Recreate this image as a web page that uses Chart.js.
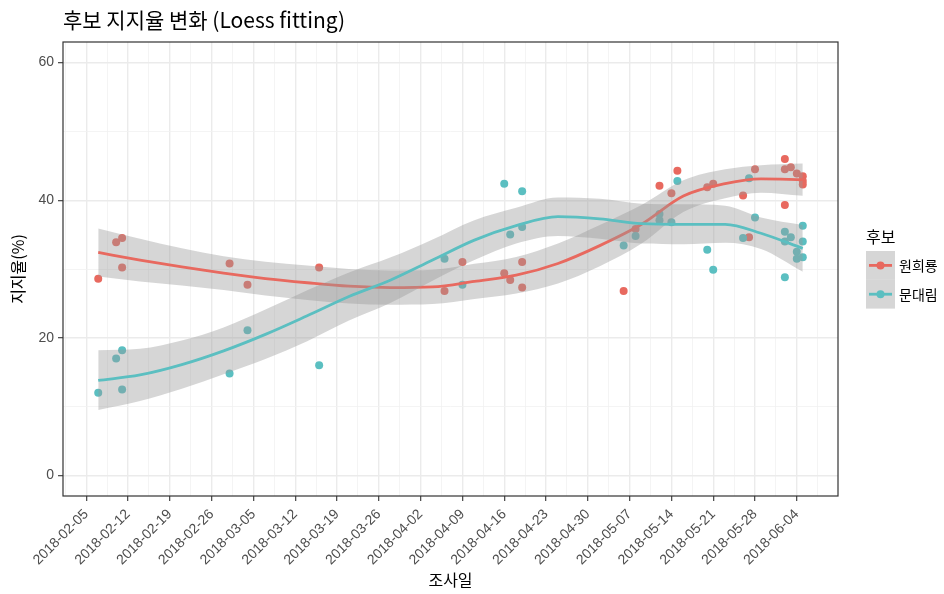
<!DOCTYPE html>
<html>
<head>
<meta charset="utf-8">
<title>후보 지지율 변화</title>
<script src="https://cdn.jsdelivr.net/npm/chart.js@4/dist/chart.umd.min.js"></script>
<style>
  html, body { margin: 0; padding: 0; background: #ffffff; }
  #wrap { width: 944px; height: 594px; position: relative; }
</style>
</head>
<body>
<div id="wrap"><canvas id="chart" width="944" height="594"></canvas></div>
<script>
// ---- data ---------------------------------------------------------------
const chartTitle = '후보 지지율 변화 (Loess fitting)';
const legendTitle = '후보';
const seriesNames = ['원희룡', '문대림'];
const xAxisTitle = '조사일';
const yAxisTitle = '지지율(%)';

const tickDates = ['2018-02-05', '2018-02-12', '2018-02-19', '2018-02-26', '2018-03-05',
  '2018-03-12', '2018-03-19', '2018-03-26', '2018-04-02', '2018-04-09', '2018-04-16',
  '2018-04-23', '2018-04-30', '2018-05-07', '2018-05-14', '2018-05-21', '2018-05-28',
  '2018-06-04'];
const yTickLabels = [0, 20, 40, 60];

// poll results, 원희룡
const wonDates = ['2018-02-07', '2018-02-10', '2018-02-11', '2018-02-11', '2018-03-01',
  '2018-03-04', '2018-03-16', '2018-04-06', '2018-04-09', '2018-04-16', '2018-04-17',
  '2018-04-19', '2018-04-19', '2018-05-06', '2018-05-08', '2018-05-12', '2018-05-14',
  '2018-05-15', '2018-05-20', '2018-05-21', '2018-05-26', '2018-05-27', '2018-05-28',
  '2018-06-02', '2018-06-02', '2018-06-02', '2018-06-03', '2018-06-04', '2018-06-05',
  '2018-06-05', '2018-06-05'];
const wonValues = [28.6, 33.9, 34.5, 30.2, 30.8,
  27.7, 30.2, 26.8, 31.0, 29.4, 28.4,
  31.0, 27.3, 26.8, 35.8, 42.1, 41.0,
  44.3, 41.9, 42.4, 40.7, 34.6, 44.5,
  46.0, 44.5, 39.3, 44.8, 43.9, 43.5,
  42.8, 42.3];

// poll results, 문대림
const moonDates = ['2018-02-07', '2018-02-10', '2018-02-11', '2018-02-11', '2018-03-01',
  '2018-03-04', '2018-03-16', '2018-04-06', '2018-04-09', '2018-04-16', '2018-04-17',
  '2018-04-19', '2018-04-19', '2018-05-06', '2018-05-08', '2018-05-12', '2018-05-12',
  '2018-05-14', '2018-05-15', '2018-05-20', '2018-05-21', '2018-05-26', '2018-05-27',
  '2018-05-28', '2018-06-02', '2018-06-02', '2018-06-02', '2018-06-03', '2018-06-04',
  '2018-06-04', '2018-06-05', '2018-06-05', '2018-06-05'];
const moonValues = [12.0, 17.0, 18.2, 12.5, 14.8,
  21.1, 16.0, 31.5, 27.7, 42.4, 35.0,
  41.3, 36.1, 33.4, 34.8, 38.0, 37.1,
  36.8, 42.8, 32.8, 29.9, 34.5, 43.2,
  37.5, 35.4, 34.0, 28.8, 34.6, 32.5,
  31.5, 36.3, 34.0, 31.7];

// loess fit with confidence band, sampled weekly
const fitDates = ['2018-02-07', '2018-02-14', '2018-02-21', '2018-02-28', '2018-03-07',
  '2018-03-14', '2018-03-21', '2018-03-28', '2018-04-04', '2018-04-11', '2018-04-18',
  '2018-04-25', '2018-05-02', '2018-05-09', '2018-05-16', '2018-05-23', '2018-05-29',
  '2018-06-05'];
const wonFit   = [32.4, 31.3, 30.3, 29.4, 28.6, 28.0, 27.5, 27.3, 27.4, 28.2, 29.1, 30.8, 33.4, 36.5, 40.6, 42.4, 43.1, 43.0];
const wonLower = [28.9, 28.2, 27.6, 26.95, 26.15, 25.5, 25.0, 24.8, 24.9, 25.65, 26.45, 27.9, 30.4, 33.7, 38.3, 40.3, 41.1, 40.65];
const wonUpper = [35.9, 34.4, 33.0, 31.85, 31.05, 30.5, 30.0, 29.8, 29.9, 30.75, 31.75, 33.7, 36.4, 39.3, 42.9, 44.5, 45.1, 45.35];
const moonFit   = [13.8, 14.6, 16.1, 18.1, 20.5, 23.2, 26.0, 28.4, 31.3, 34.2, 36.3, 37.6, 37.3, 36.6, 36.5, 36.5, 35.2, 33.0];
const moonLower = [9.5, 10.8, 12.6, 14.7, 16.9, 19.5, 22.5, 25.1, 28.3, 31.3, 33.7, 34.8, 34.4, 33.7, 33.6, 33.8, 32.9, 29.6];
const moonUpper = [18.2, 18.4, 19.6, 21.5, 24.1, 26.9, 29.5, 31.7, 34.3, 37.1, 38.9, 40.4, 40.2, 39.5, 39.4, 39.2, 37.5, 36.4];

// ---- helpers --------------------------------------------------------------
const ORIGIN = Date.UTC(2018, 1, 5);
function dayOf(s) {
  const [y, m, d] = s.split('-').map(Number);
  return (Date.UTC(y, m - 1, d) - ORIGIN) / 86400000;
}
function toPoints(dates, values) {
  return dates.map((d, i) => ({ x: dayOf(d), y: values[i] }));
}

const WON_COLOR = '#E8695F';
const MOON_COLOR = '#5BBFC1';
const seriesColors = [WON_COLOR, MOON_COLOR];
const BAND_FILL = 'rgba(153,153,153,0.4)';

const allDays = wonDates.concat(moonDates).map(dayOf);
const dMin = Math.min(...allDays), dMax = Math.max(...allDays);
const xPad = (dMax - dMin) * 0.05;

const majorX = tickDates.map(dayOf);
const xGrid = [];
for (let v = majorX[0] - 3.5; v <= dMax + xPad; v += 3.5) xGrid.push(v);
const yGrid = [0, 10, 20, 30, 40, 50, 60];

const isMajorX = v => Math.abs(v % 7) < 1e-9;
const isMajorY = v => yTickLabels.includes(v);

function gridOpts(isMajor) {
  return {
    color: c => (c.tick && isMajor(c.tick.value)) ? '#EBEBEB' : '#F1F1F1',
    lineWidth: c => (c.tick && isMajor(c.tick.value)) ? 1.4 : 0.8,
    tickColor: c => (c.tick && isMajor(c.tick.value)) ? '#333333' : 'rgba(0,0,0,0)',
    tickLength: 5,
    tickWidth: 1.1
  };
}

const lineStyle = (color, order) => ({
  showLine: true, borderColor: color, borderWidth: 2.8, pointRadius: 0,
  cubicInterpolationMode: 'monotone', fill: false, order
});
const bandStyle = (fill, order) => ({
  showLine: true, borderWidth: 0, borderColor: 'rgba(0,0,0,0)', pointRadius: 0,
  cubicInterpolationMode: 'monotone', backgroundColor: BAND_FILL, fill, order
});

// panel frame drawn over the data, plus the legend at the right
const framePlugin = {
  id: 'panelFrame',
  afterDatasetsDraw(chart) {
    const { ctx, chartArea: a } = chart;
    ctx.save();
    ctx.strokeStyle = '#333333';
    ctx.lineWidth = 1.2;
    ctx.strokeRect(a.left, a.top, a.right - a.left, a.bottom - a.top);
    ctx.restore();
  }
};
const legendPlugin = {
  id: 'sideLegend',
  afterDraw(chart) {
    const ctx = chart.ctx;
    const keyX = 866, keyW = 29, keyH = 28.8, keyTop = 251;
    ctx.save();
    ctx.textAlign = 'left';
    ctx.textBaseline = 'middle';
    ctx.fillStyle = '#000000';
    ctx.font = '16px "Noto Sans CJK KR"';
    ctx.fillText(legendTitle, keyX, 237);
    seriesNames.forEach((name, i) => {
      const y0 = keyTop + i * keyH;
      const cy = y0 + keyH / 2;
      ctx.fillStyle = BAND_FILL;
      ctx.fillRect(keyX, y0, keyW, keyH);
      ctx.strokeStyle = seriesColors[i];
      ctx.lineWidth = 2.8;
      ctx.beginPath();
      ctx.moveTo(keyX + 3, cy);
      ctx.lineTo(keyX + keyW - 3, cy);
      ctx.stroke();
      ctx.fillStyle = seriesColors[i];
      ctx.beginPath();
      ctx.arc(keyX + keyW / 2, cy, 4, 0, Math.PI * 2);
      ctx.fill();
      ctx.fillStyle = '#000000';
      ctx.font = '14px "Noto Sans CJK KR"';
      ctx.fillText(name, keyX + keyW + 4, cy);
    });
    ctx.restore();
  }
};

Chart.defaults.font.family = '"Liberation Sans", Arial, sans-serif';

new Chart(document.getElementById('chart'), {
  type: 'line',
  data: {
    datasets: [
      { label: seriesNames[0], data: toPoints(wonDates, wonValues), showLine: false,
        pointRadius: 4, pointBorderWidth: 0, pointBackgroundColor: WON_COLOR, order: 6 },
      { label: seriesNames[1], data: toPoints(moonDates, moonValues), showLine: false,
        pointRadius: 4, pointBorderWidth: 0, pointBackgroundColor: MOON_COLOR, order: 5 },
      Object.assign({ label: 'won-upper', data: toPoints(fitDates, wonUpper) }, bandStyle('+1', 4)),
      Object.assign({ label: 'won-lower', data: toPoints(fitDates, wonLower) }, bandStyle(false, 4)),
      Object.assign({ label: 'won-fit', data: toPoints(fitDates, wonFit) }, lineStyle(WON_COLOR, 3)),
      Object.assign({ label: 'moon-upper', data: toPoints(fitDates, moonUpper) }, bandStyle('+1', 2)),
      Object.assign({ label: 'moon-lower', data: toPoints(fitDates, moonLower) }, bandStyle(false, 2)),
      Object.assign({ label: 'moon-fit', data: toPoints(fitDates, moonFit) }, lineStyle(MOON_COLOR, 1))
    ]
  },
  options: {
    responsive: false,
    animation: false,
    events: [],
    layout: { padding: { left: 0, right: 106, top: 0, bottom: 0 } },
    plugins: {
      legend: { display: false },
      tooltip: { enabled: false },
      filler: { drawTime: 'beforeDatasetDraw' },
      title: {
        display: true, text: chartTitle, align: 'start', fullSize: false,
        color: '#000000', font: { family: '"Noto Sans CJK KR"', size: 21, weight: 'normal', lineHeight: 1.2 },
        padding: { top: 7, bottom: 9.8 }
      }
    },
    scales: {
      x: {
        type: 'linear',
        min: dMin - xPad,
        max: dMax + xPad,
        afterBuildTicks: s => { s.ticks = xGrid.map(v => ({ value: v })); },
        afterFit: s => { s.height = 98; },
        ticks: {
          autoSkip: false, minRotation: 45, maxRotation: 45, padding: 5,
          color: '#4D4D4D', font: { size: 14 },
          callback: v => isMajorX(v) ? tickDates[Math.round(v / 7)] : ''
        },
        grid: gridOpts(isMajorX),
        border: { display: false },
        title: {
          display: true, text: xAxisTitle, color: '#000000',
          font: { family: '"Noto Sans CJK KR"', size: 16, lineHeight: 1.2 },
          padding: { top: 0, bottom: 4 }
        }
      },
      y: {
        type: 'linear',
        min: -3,
        max: 63,
        afterBuildTicks: s => { s.ticks = yGrid.map(v => ({ value: v })); },
        afterFit: s => { s.width = 63; },
        ticks: {
          padding: 4, color: '#4D4D4D', font: { size: 14 },
          callback: v => isMajorY(v) ? String(v) : ''
        },
        grid: gridOpts(isMajorY),
        border: { display: false },
        title: {
          display: true, text: yAxisTitle, color: '#000000',
          font: { family: '"Noto Sans CJK KR"', size: 16, lineHeight: 1.2 },
          padding: { top: 8, bottom: 0 }
        }
      }
    }
  },
  plugins: [framePlugin, legendPlugin]
});
</script>
</body>
</html>
